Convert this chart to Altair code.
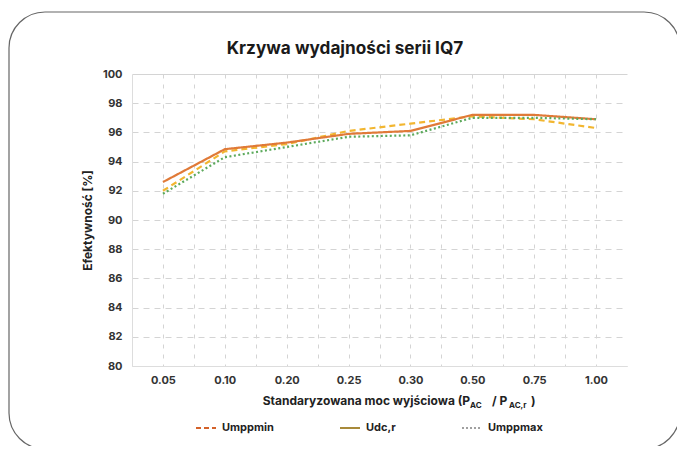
import altair as alt
import pandas as pd

categories = ["0.05", "0.10", "0.20", "0.25", "0.30", "0.50", "0.75", "1.00"]
series_names = ["Umppmin", "Udc,r", "Umppmax"]
umppmin = [92.0, 94.7, 95.2, 96.1, 96.6, 97.1, 96.9, 96.3]
udc_r = [92.6, 94.85, 95.3, 95.9, 96.1, 97.2, 97.2, 96.9]
umppmax = [91.8, 94.3, 95.0, 95.7, 95.8, 97.0, 97.0, 96.9]
y_ticks = [80, 82, 84, 86, 88, 90, 92, 94, 96, 98, 100]

line_colors = ["#F2B630", "#E07A38", "#5DAA5D"]
legend_colors = ["#D4622A", "#A88A3A", "#A0A0A0"]
dashes = [[6, 4], [1, 0], [2, 2.5]]

rows = []
for name, vals in zip(series_names, [umppmin, udc_r, umppmax]):
    for i, (c, v) in enumerate(zip(categories, vals)):
        rows.append({"idx": i, "cat": c, "series": name, "value": v})
df = pd.DataFrame(rows)

FONT = "Inter"
W, H = 495, 292

cat_js = "[" + ",".join("'" + c + "'" for c in categories) + "]"
label_expr = "datum.value % 1 === 0 ? " + cat_js + "[datum.value] : ''"
x_vals = [i * 0.5 for i in range(0, 15)]


def x_enc():
    return alt.X(
        "idx:Q",
        scale=alt.Scale(domain=[-0.5, 7.5], nice=False, zero=False),
        axis=alt.Axis(
            values=x_vals, labelExpr=label_expr, title=None, ticks=False,
            labelOverlap=False, labelFlush=False, labelPadding=8,
            labelFont=FONT, labelFontSize=11, labelFontWeight="bold", labelColor="#333",
            grid=True, gridDash=[4, 6], gridColor="#d4d4d4",
            domainColor="#dddddd",
        ),
    )


def y_enc():
    return alt.Y(
        "value:Q",
        scale=alt.Scale(domain=[80, 100], nice=False, zero=False),
        axis=alt.Axis(
            values=y_ticks, title="Efektywność [%]", ticks=False, labelPadding=10,
            labelOverlap=False, labelFlush=False,
            labelFont=FONT, labelFontSize=11, labelFontWeight="bold", labelColor="#333",
            titleFont=FONT, titleFontSize=12, titleFontWeight="bold", titleColor="#222",
            titlePadding=8,
            grid=True, gridColor="#d4d4d4",
            gridDash={"condition": {"test": "datum.value == 100 || datum.value == 80", "value": []}, "value": [6, 5]},
            domainColor="#dddddd",
        ),
    )


lines = alt.Chart(df).mark_line(strokeWidth=2.2).encode(
    x=x_enc(),
    y=y_enc(),
    color=alt.Color("series:N", scale=alt.Scale(domain=series_names, range=line_colors), legend=None),
    strokeDash=alt.StrokeDash("series:N", scale=alt.Scale(domain=series_names, range=dashes), legend=None),
    order=alt.Order("idx:Q"),
)


def leg():
    return alt.Legend(
        title=None, orient="none", legendX=63, legendY=343, direction="horizontal",
        symbolType="stroke", symbolSize=400, symbolStrokeWidth=2, symbolOpacity=1,
        labelFont=FONT, labelFontSize=11, labelFontWeight="bold", labelColor="#222",
        columnPadding=62, labelOffset=5,
    )


legend_layer = alt.Chart(df).mark_line(opacity=0).encode(
    x=x_enc(),
    y=y_enc(),
    color=alt.Color("series:N", scale=alt.Scale(domain=series_names, range=legend_colors), legend=leg()),
    strokeDash=alt.StrokeDash("series:N", scale=alt.Scale(domain=series_names, range=[[5, 3], [1, 0], [2, 2]]), legend=leg()),
)

one = pd.DataFrame({"k": [0]})
border = alt.Chart(one).mark_rect(
    cornerRadius=36, fillOpacity=0, stroke="#666666", strokeWidth=1.2
).encode(
    x=alt.value(-123), x2=alt.value(548), y=alt.value(-62), y2=alt.value(375)
)


def txt(s, x, y, size, align="left", color="#222"):
    return alt.Chart(one).mark_text(
        text=s, font=FONT, fontSize=size, fontWeight="bold", color=color,
        align=align, baseline="alphabetic",
    ).encode(x=alt.value(x), y=alt.value(y))


title = txt("Krzywa wydajności serii IQ7", 213, -20, 17.2, "center", "#1a1a1a")

xtitle = (
    txt("Standaryzowana moc wyjściowa (P", 338, 331, 12, "right")
    + txt("AC", 338, 334, 8)
    + txt("/ P", 360, 331, 12)
    + txt("AC,r", 377, 334, 8)
    + txt(")", 399, 331, 12)
)

chart = alt.layer(border, lines, legend_layer, title, xtitle).resolve_scale(
    color="independent", strokeDash="independent"
).properties(
    width=W, height=H,
    background="white",
    autosize=alt.AutoSizeParams(type="none"),
    padding={"left": 124, "top": 66, "right": 50, "bottom": 80},
).configure_view(stroke=None)

chart.save("out.html", embed_options={"renderer": "svg", "actions": False})
